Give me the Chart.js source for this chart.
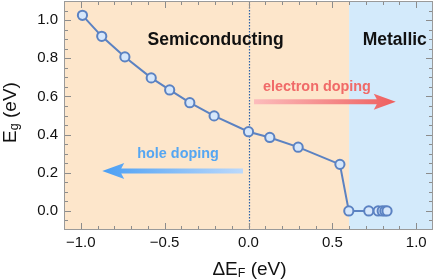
<!DOCTYPE html>
<html>
<head>
<meta charset="utf-8">
<script src="https://cdn.jsdelivr.net/npm/chart.js@4.4.1/dist/chart.umd.min.js"></script>
<style>
  html, body { margin: 0; padding: 0; background: #ffffff; }
  #wrap { width: 436px; height: 280px; position: relative; }
</style>
</head>
<body>
<div id="wrap"><canvas id="c" width="436" height="280"></canvas></div>
<script>
// ---- data ----
const deltaEF = [-0.99, -0.875, -0.737, -0.58, -0.47, -0.35, -0.205, 0.0, 0.127, 0.296, 0.545, 0.598, 0.717, 0.773, 0.797, 0.813, 0.826];
const gapEg   = [1.025, 0.915, 0.807, 0.697, 0.634, 0.567, 0.498, 0.415, 0.385, 0.334, 0.244, 0.0, 0.0, 0.0, 0.0, 0.0, 0.0];
const xTickValues = [-1.0, -0.5, 0.0, 0.5, 1.0];
const yTickValues = [0.0, 0.2, 0.4, 0.6, 0.8, 1.0];
const xRange = [-1.1, 1.1];
const yRange = [-0.1, 1.1];
const regionEdges = [-1.1, 0.6, 1.1];
const regionNames = ['Semiconducting', 'Metallic'];
const dopingNames = ['electron doping', 'hole doping'];

const FONT = '"Liberation Sans", Arial, Helvetica, sans-serif';
const fmt = v => (v < 0 ? '\u2212' : '') + Math.abs(v).toFixed(1);

function drawArrow(ctx, xTail, xTip, y, shaftW, headLen, headHalf, grad) {
  const dir = xTip > xTail ? 1 : -1;
  const xBase = xTip - dir * headLen;
  ctx.save();
  ctx.fillStyle = grad;
  ctx.beginPath();
  ctx.moveTo(xTail, y - shaftW / 2);
  ctx.lineTo(xBase, y - shaftW / 2);
  ctx.lineTo(xBase - dir * 3, y - headHalf);
  ctx.lineTo(xTip, y);
  ctx.lineTo(xBase - dir * 3, y + headHalf);
  ctx.lineTo(xBase, y + shaftW / 2);
  ctx.lineTo(xTail, y + shaftW / 2);
  ctx.closePath();
  ctx.fill();
  ctx.restore();
}

function drawSubText(ctx, parts, x, y, align) {
  let total = 0;
  parts.forEach(p => { ctx.font = p[1]; total += ctx.measureText(p[0]).width; });
  let cx = align === 'center' ? x - total / 2 : x;
  ctx.textAlign = 'left';
  ctx.textBaseline = 'alphabetic';
  parts.forEach(p => {
    ctx.font = p[1];
    ctx.fillText(p[0], cx, y + p[2]);
    cx += ctx.measureText(p[0]).width;
  });
}

const noPad = s => { s.paddingTop = 0; s.paddingBottom = 0; s.paddingLeft = 0; s.paddingRight = 0; };

const decor = {
  id: 'decor',
  beforeDatasetsDraw(chart) {
    const { ctx, chartArea: a, scales: { x, y } } = chart;
    ctx.save();
    const regionColors = ['#fde6cb', '#d3eafb'];
    for (let i = 0; i < regionEdges.length - 1; i++) {
      const x0 = Math.max(a.left, x.getPixelForValue(regionEdges[i]));
      const x1 = Math.min(a.right, x.getPixelForValue(regionEdges[i + 1]));
      ctx.fillStyle = regionColors[i];
      ctx.fillRect(x0, a.top, x1 - x0, a.bottom - a.top);
    }
    const x0p = Math.round(x.getPixelForValue(0)) + 0.5;
    ctx.strokeStyle = '#2a62a8';
    ctx.lineWidth = 1.2;
    ctx.setLineDash([1.5, 1.5]);
    ctx.beginPath();
    ctx.moveTo(x0p, a.top);
    ctx.lineTo(x0p, a.bottom);
    ctx.stroke();
    ctx.setLineDash([]);

    ctx.fillStyle = '#111111';
    ctx.font = 'bold 17.5px ' + FONT;
    ctx.textAlign = 'center';
    ctx.textBaseline = 'alphabetic';
    ctx.fillText(regionNames[0], x.getPixelForValue(-0.196), y.getPixelForValue(0.867));
    ctx.fillText(regionNames[1], x.getPixelForValue(0.872), y.getPixelForValue(0.867));

    ctx.font = 'bold 14.4px ' + FONT;
    ctx.fillStyle = '#f06a68';
    ctx.fillText(dopingNames[0], x.getPixelForValue(0.408), y.getPixelForValue(0.63));
    ctx.fillStyle = '#55a6f2';
    ctx.fillText(dopingNames[1], x.getPixelForValue(-0.42), y.getPixelForValue(0.276));

    const eTail = x.getPixelForValue(0.033), eTip = x.getPixelForValue(0.878), eY = y.getPixelForValue(0.572);
    const gE = ctx.createLinearGradient(eTail, 0, eTip, 0);
    gE.addColorStop(0, '#fcbcbc');
    gE.addColorStop(1, '#ee5f5e');
    drawArrow(ctx, eTail, eTip, eY, 5, 19, 8, gE);
    const hTail = x.getPixelForValue(-0.033), hTip = x.getPixelForValue(-0.872), hY = y.getPixelForValue(0.209);
    const gH = ctx.createLinearGradient(hTail, 0, hTip, 0);
    gH.addColorStop(0, '#bcd9fb');
    gH.addColorStop(1, '#4a9ff4');
    drawArrow(ctx, hTail, hTip, hY, 5, 19, 8, gH);
    ctx.restore();
  },
  afterDraw(chart) {
    const { ctx, chartArea: a, scales: { x, y } } = chart;
    ctx.save();
    ctx.strokeStyle = '#8c8c8c';
    ctx.lineWidth = 1;
    const majL = 7, minL = 4;
    for (let i = -11; i <= 11; i++) {
      const v = i / 10;
      const px = Math.round(x.getPixelForValue(v)) + 0.5;
      if (px < a.left + 1 || px > a.right - 1) continue;
      const L = (i % 5 === 0) ? majL : minL;
      ctx.beginPath();
      ctx.moveTo(px, a.bottom); ctx.lineTo(px, a.bottom - L);
      ctx.moveTo(px, a.top); ctx.lineTo(px, a.top + L);
      ctx.stroke();
    }
    for (let i = -2; i <= 22; i++) {
      const v = i / 20;
      const py = Math.round(y.getPixelForValue(v)) + 0.5;
      if (py < a.top + 1 || py > a.bottom - 1) continue;
      const L = (i % 4 === 0) ? majL : minL;
      ctx.beginPath();
      ctx.moveTo(a.left, py); ctx.lineTo(a.left + L, py);
      ctx.moveTo(a.right, py); ctx.lineTo(a.right - L, py);
      ctx.stroke();
    }
    ctx.strokeStyle = '#9a9a9a';
    ctx.strokeRect(Math.round(a.left) + 0.5, Math.round(a.top) + 0.5,
                   Math.round(a.right - a.left) - 1, Math.round(a.bottom - a.top) - 1);

    ctx.fillStyle = '#111111';
    const big = '19px ' + FONT, small = '12.5px ' + FONT;
    drawSubText(ctx, [['\u0394E', big, 0], ['F', small, 2], [' (eV)', big, 0]],
                (a.left + a.right) / 2 + 1, 275, 'center');
    ctx.translate(15.5, (a.top + a.bottom) / 2 - 3);
    ctx.rotate(-Math.PI / 2);
    drawSubText(ctx, [['E', big, 0], ['g', small, 2], [' (eV)', big, 0]], 0, 0, 'center');
    ctx.restore();
  }
};

new Chart(document.getElementById('c'), {
  type: 'scatter',
  data: {
    datasets: [{
      data: deltaEF.map((v, i) => ({ x: v, y: gapEg[i] })),
      showLine: true,
      borderColor: '#5b82c2',
      borderWidth: 2,
      pointRadius: 4.6,
      pointBorderWidth: 2,
      pointBackgroundColor: '#d6e7fb',
      pointBorderColor: '#5b82c2',
      tension: 0
    }]
  },
  options: {
    responsive: false,
    animation: false,
    devicePixelRatio: 1,
    layout: { autoPadding: false, padding: { top: 1, right: 3, left: 0, bottom: 0 } },
    plugins: { legend: { display: false }, tooltip: { enabled: false } },
    scales: {
      x: {
        type: 'linear', min: xRange[0], max: xRange[1],
        grid: { display: false, drawTicks: false },
        border: { display: false },
        afterBuildTicks: s => { s.ticks = xTickValues.map(v => ({ value: v })); },
        afterFit: s => { s.height = 50; noPad(s); },
        ticks: { padding: 4, color: '#111111', font: { family: FONT, size: 15 }, callback: v => fmt(v), maxRotation: 0, autoSkip: false }
      },
      y: {
        type: 'linear', min: yRange[0], max: yRange[1],
        grid: { display: false, drawTicks: false },
        border: { display: false },
        afterBuildTicks: s => { s.ticks = yTickValues.map(v => ({ value: v })); },
        afterFit: s => { s.width = 64; noPad(s); },
        ticks: { padding: 6, color: '#111111', font: { family: FONT, size: 15 }, callback: v => fmt(v), autoSkip: false }
      }
    }
  },
  plugins: [decor]
});
</script>
</body>
</html>
